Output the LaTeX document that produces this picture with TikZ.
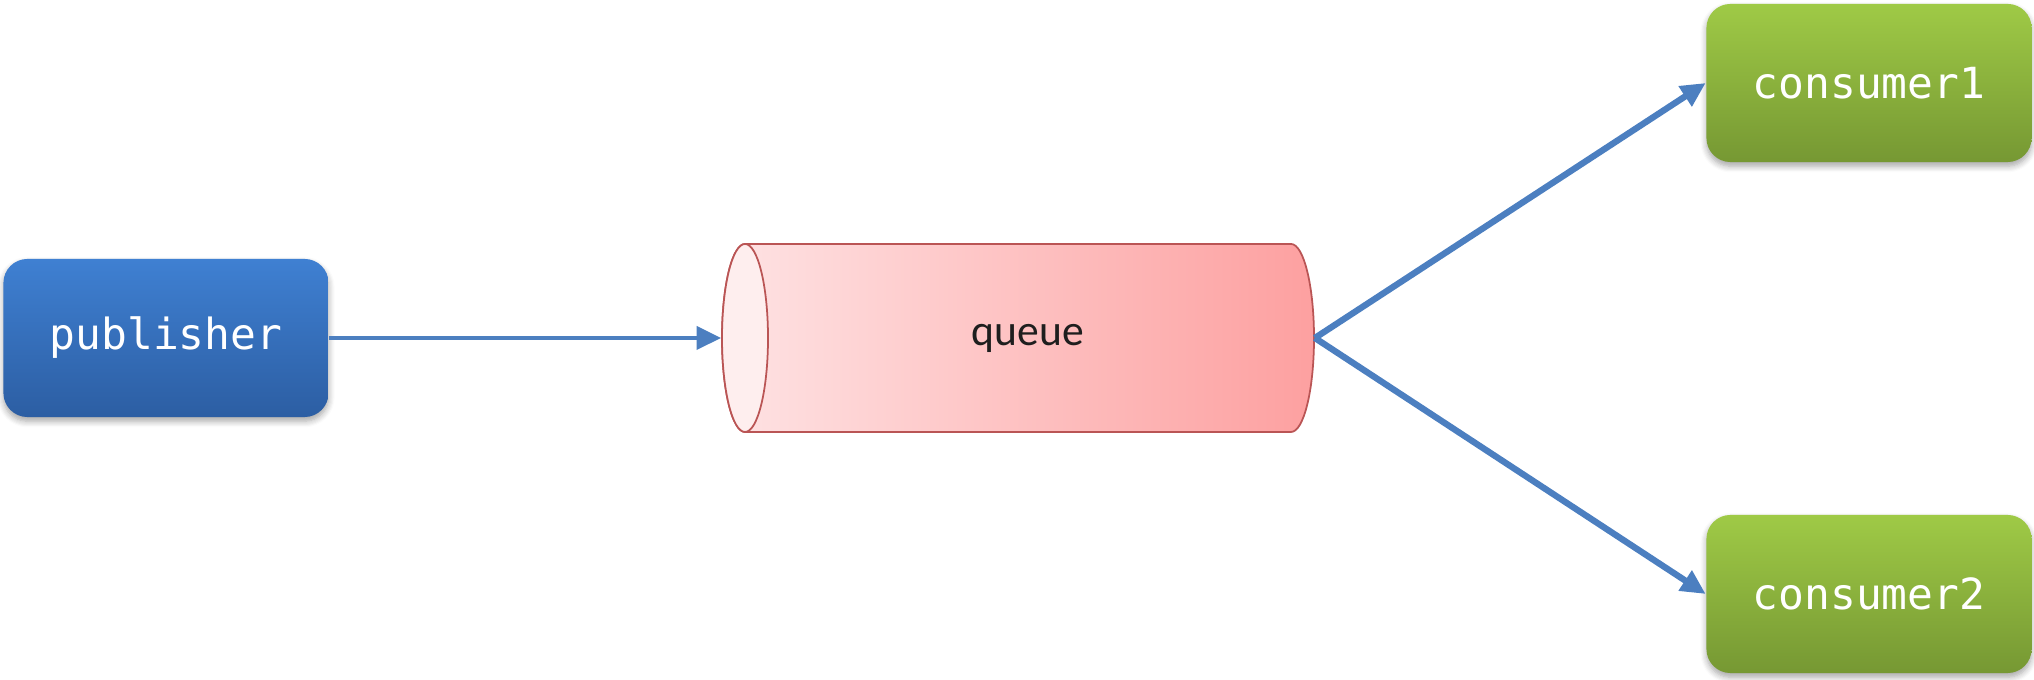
\documentclass[tikz,border=0pt]{standalone}
\usepackage{fontspec}
\usepackage{tikz}
\usetikzlibrary{arrows.meta, shadows.blur}
\newfontfamily\boxfont{DejaVu Sans Mono}
\newfontfamily\queuefont{Carlito}
\definecolor{PUBTOP}{HTML}{3F80D2}
\definecolor{PUBBOT}{HTML}{2C5EA3}
\definecolor{CONTOP}{HTML}{9FCA46}
\definecolor{CONBOT}{HTML}{769833}
\definecolor{QLEFT}{HTML}{FEE3E4}
\definecolor{QRIGHT}{HTML}{FDA0A0}
\definecolor{QFACE}{HTML}{FEEEEE}
\definecolor{QLINE}{HTML}{BA5555}
\definecolor{QTEXT}{HTML}{1E1E1E}
\definecolor{ARROW}{HTML}{4C7FC0}

\begin{document}
\begin{tikzpicture}[x=0.01cm, y=0.01cm,
    box/.style={rounded corners=0.24cm, minimum height=1.58cm, minimum width=3.25cm,
        text=white, font=\boxfont\fontsize{12.2}{14}\selectfont,
        blur shadow={shadow xshift=0pt, shadow yshift=-1.2pt, shadow blur steps=6, shadow opacity=35}},
    pubbox/.style={box, top color=PUBTOP, bottom color=PUBBOT},
    conbox/.style={box, top color=CONTOP, bottom color=CONBOT},
    flow/.style={ARROW, -{Triangle[length=7pt, width=6.5pt]}}]
    \useasboundingbox (0,0) rectangle (2034,680);
    % boxes
    \node[pubbox] (publisher) at (166,342) {publisher};
    \node[conbox] (consumer1) at (1869,597) {consumer1};
    \node[conbox] (consumer2) at (1869,86) {consumer2};
    % queue
    \node[minimum width=5.92cm, minimum height=1.88cm, inner sep=0pt] (queue) at (1018,342) {};
    \shade[left color=QLEFT, right color=QRIGHT, draw=QLINE, line width=0.5pt]
        (745,436) -- (1291,436) arc[start angle=90, end angle=-90, x radius=23, y radius=94]
        -- (745,248) arc[start angle=270, end angle=90, x radius=23, y radius=94] -- cycle;
    \filldraw[fill=QFACE, draw=QLINE, line width=0.5pt] (745,342) ellipse [x radius=23, y radius=94];
    \node[text=QTEXT, font=\queuefont\fontsize{12.4}{14}\selectfont] at ([xshift=0.1cm]queue) {queue};
    % arrows
    \draw[flow, line width=1.3pt] (publisher) -- (queue.west);
    \draw[flow, line width=1.8pt] (queue.east) -- (consumer1.west);
    \draw[flow, line width=1.8pt] (queue.east) -- (consumer2.west);
\end{tikzpicture}
\end{document}
